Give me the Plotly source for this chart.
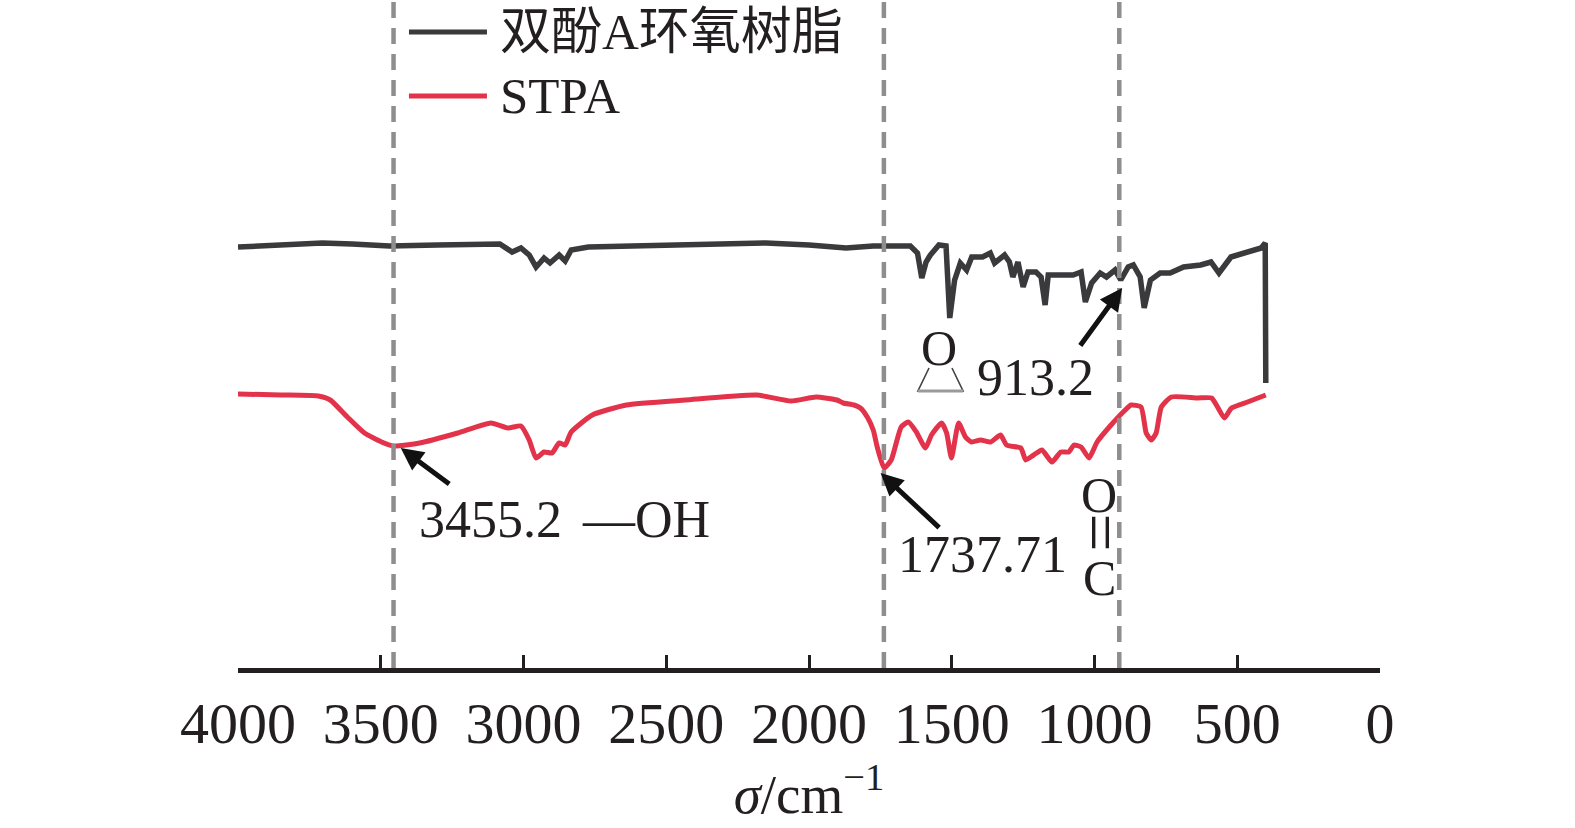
import plotly.graph_objects as go

# ---------------- data ----------------
bpa_wavenumber = [4000, 3850, 3705, 3600, 3470, 3300, 3083, 3040, 3009, 2980, 2956, 2940, 2928,
                  2907, 2875, 2854, 2833, 2773, 2500, 2151, 2000, 1870, 1775, 1645, 1620, 1605,
                  1590, 1575, 1545, 1520, 1507, 1490, 1470, 1448, 1430, 1392, 1365, 1350, 1315,
                  1298, 1286, 1268, 1250, 1233, 1205, 1187, 1173, 1162, 1118, 1075, 1047, 1032,
                  1010, 980, 958, 928, 908, 882, 864, 840, 826, 804, 770, 735, 688, 628, 592,
                  564, 522, 466, 416, 402, 400]
bpa_transmittance = [86.0, 86.4, 86.8, 86.6, 86.2, 86.4, 86.6, 85.0, 85.8, 84.4, 82.0, 83.0, 83.8,
                     82.8, 84.4, 83.2, 85.4, 86.0, 86.4, 86.8, 86.4, 85.8, 86.2, 86.2, 84.8, 79.8,
                     83.0, 84.4, 86.4, 86.2, 71.8, 79.4, 82.8, 81.4, 84.0, 84.0, 84.8, 82.8, 84.4,
                     83.0, 80.0, 83.0, 78.0, 81.0, 81.0, 80.0, 74.4, 80.4, 80.4, 80.4, 81.0, 75.0,
                     78.8, 80.8, 80.0, 81.4, 79.4, 82.0, 82.4, 80.0, 73.8, 79.4, 80.8, 80.8, 82.0,
                     82.4, 83.0, 80.8, 84.0, 85.0, 85.8, 86.8, 58.8]

stpa_wavenumber = [4000, 3850, 3719, 3677, 3617, 3557, 3497, 3455, 3364, 3230, 3114, 3054, 3009,
                   2980, 2956, 2928, 2900, 2875, 2854, 2833, 2759, 2640, 2432, 2183, 2063, 1975,
                   1902, 1880, 1842, 1820, 1796, 1775, 1761, 1737, 1712, 1677, 1652, 1624, 1592,
                   1571, 1536, 1518, 1501, 1476, 1452, 1431, 1399, 1364, 1329, 1308, 1258, 1241,
                   1213, 1184, 1149, 1118, 1090, 1072, 1047, 1019, 991, 942, 896, 872, 837, 819,
                   801, 784, 766, 731, 640, 590, 569, 545, 520, 464, 400]
stpa_transmittance = [56.6, 56.4, 56.2, 55.4, 52.0, 48.8, 47.0, 46.2, 46.8, 48.8, 50.8, 49.8, 50.2,
                      47.4, 43.8, 45.0, 44.8, 46.8, 46.4, 49.0, 52.4, 54.4, 55.4, 56.4, 55.2, 56.0,
                      55.4, 54.8, 54.4, 53.8, 52.0, 49.4, 46.0, 41.8, 43.4, 50.0, 51.0, 49.0, 45.8,
                      48.4, 50.8, 48.8, 43.8, 50.8, 48.0, 47.0, 47.4, 47.0, 48.4, 46.4, 45.8, 43.4,
                      44.4, 45.4, 43.0, 45.0, 45.0, 46.4, 46.0, 43.8, 47.0, 50.4, 53.2, 54.4, 54.0,
                      48.8, 47.4, 48.8, 54.0, 56.0, 55.8, 55.8, 54.0, 51.8, 53.8, 55.0, 56.4]

series_names = ["双酚A环氧树脂", "STPA"]
peak_positions = [3455.2, 1737.71, 913.2]
x_tick_values = [4000, 3500, 3000, 2500, 2000, 1500, 1000, 500, 0]
x_tick_labels = ["4000", "3500", "3000", "2500", "2000", "1500", "1000", "500", "0"]

# ---------------- styling ----------------
BLACK = "#3a393b"
RED = "#e2334b"
GRAY = "#8e8e8e"
INK = "#231f20"
FONT = "Liberation Serif, Times New Roman, Noto Sans CJK SC, serif"

fig = go.Figure()
fig.add_trace(go.Scatter(x=bpa_wavenumber, y=bpa_transmittance, mode="lines",
                         name=series_names[0], line=dict(color=BLACK, width=5.5),
                         showlegend=False))
fig.add_trace(go.Scatter(x=stpa_wavenumber, y=stpa_transmittance, mode="lines",
                         name=series_names[1], line=dict(color=RED, width=5, shape="spline", smoothing=0.5),
                         showlegend=False))

shapes = []
for p in peak_positions:
    shapes.append(dict(type="line", xref="x", yref="paper", x0=p, x1=p, y0=0, y1=1,
                       line=dict(color=GRAY, width=4.5, dash="16px,10px"), layer="above"))

# manual legend (long line samples as in the reference)
legend_rows = [(0.9521, BLACK, series_names[0]), (0.8563, RED, series_names[1])]
annotations = []
for yy, col, name in legend_rows:
    shapes.append(dict(type="line", xref="paper", yref="paper", x0=0.1497, x1=0.2180, y0=yy, y1=yy,
                       line=dict(color=col, width=5)))
    annotations.append(dict(xref="paper", yref="paper", x=0.2277, y=yy, text=name, showarrow=False,
                            xanchor="left", yanchor="middle", font=dict(family=FONT, size=51, color=INK)))

# epoxide triangle under the "O"
shapes.append(dict(type="path", xref="paper", yref="paper",
                   path="M 0.6051 0.4491 L 0.5954 0.4147 L 0.6349 0.4147 L 0.6252 0.4491",
                   line=dict(color="#444444", width=1.6)))
shapes.append(dict(type="line", xref="paper", yref="paper", x0=0.5954, x1=0.6349, y0=0.4147, y1=0.4147,
                   line=dict(color="#9a9a9a", width=3)))

# arrows
arrows = [(3430, 45.8, 50, 37), (1749, 40.8, 60, 56), (903, 77.8, -43, 59)]
for ax_x, ax_y, dx, dy in arrows:
    annotations.append(dict(x=ax_x, y=ax_y, xref="x", yref="y", text="", showarrow=True,
                            ax=dx, ay=dy, axref="pixel", ayref="pixel", arrowhead=2, arrowsize=0.9,
                            arrowwidth=5, arrowcolor="#111111", standoff=0))

labels = [
    ("3455.2", 3115, 31.6, 52, 0),
    ("—OH", 2571, 31.6, 52, 0),
    ("1737.71", 1391, 24.6, 52, 0),
    ("O", 983, 36.4, 50, 0),
    ("=", 978, 29.0, 68, 90),
    ("C", 983, 19.8, 50, 0),
    ("O", 1546, 65.8, 50, 0),
    ("913.2", 1205, 60.0, 52, 0),
]
for txt, lx, ly, fs, ang in labels:
    annotations.append(dict(x=lx, y=ly, xref="x", yref="y", text=txt, showarrow=False,
                            xanchor="center", yanchor="middle", textangle=ang,
                            font=dict(family=FONT, size=fs, color=INK)))

fig.update_layout(
    width=1575, height=828,
    margin=dict(l=238, r=195, t=0, b=160),
    paper_bgcolor="white", plot_bgcolor="white",
    shapes=shapes, annotations=annotations,
    xaxis=dict(range=[4000, 0], tickvals=x_tick_values, ticktext=x_tick_labels,
               ticks="inside", ticklen=13, tickwidth=3, tickcolor=INK,
               showline=True, linewidth=5, linecolor=INK, showgrid=False, zeroline=False,
               tickfont=dict(family=FONT, size=58, color=INK),
               title=dict(text="<i>σ</i>/cm<sup>−1</sup>", font=dict(family=FONT, size=55, color=INK),
                          standoff=0)),
    yaxis=dict(range=[1.8, 135.4], visible=False, showgrid=False, zeroline=False),
)

fig.write_html("out.html", post_script="document.body.style.margin='0';",
               config={"displayModeBar": False})
